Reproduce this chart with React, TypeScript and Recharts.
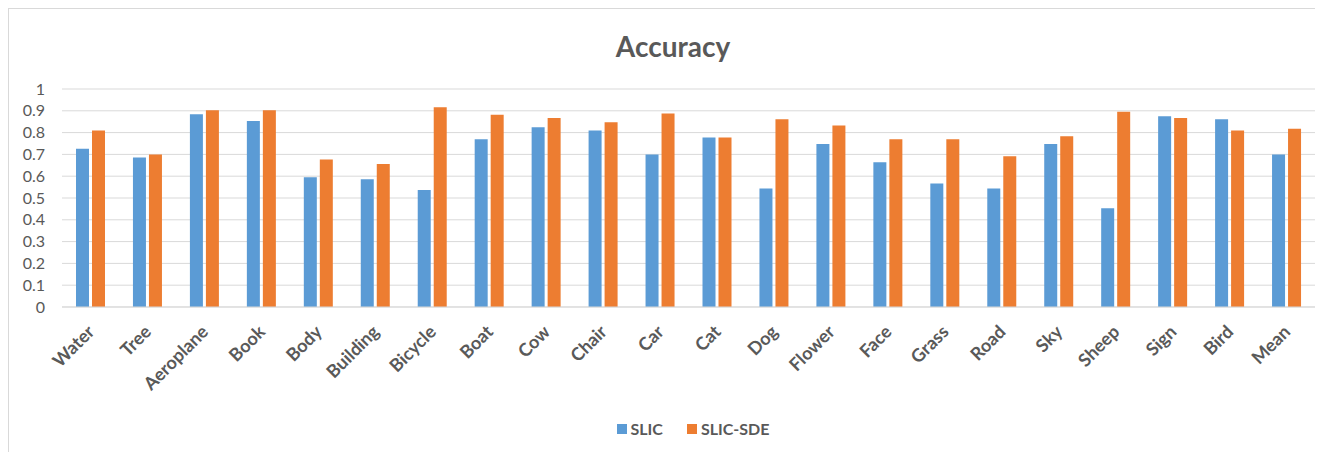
import { BarChart, Bar, XAxis, YAxis, CartesianGrid, Legend } from 'recharts'

const categories = [
  'Water', 'Tree', 'Aeroplane', 'Book', 'Body', 'Building', 'Bicycle', 'Boat', 'Cow', 'Chair', 'Car',
  'Cat', 'Dog', 'Flower', 'Face', 'Grass', 'Road', 'Sky', 'Sheep', 'Sign', 'Bird', 'Mean'
]

const slic = [
  0.726, 0.686, 0.884, 0.853, 0.595, 0.586, 0.537, 0.769, 0.824, 0.81, 0.699,
  0.777, 0.544, 0.748, 0.664, 0.566, 0.544, 0.748, 0.453, 0.875, 0.861, 0.699
]

const slicSde = [
  0.81, 0.699, 0.902, 0.902, 0.677, 0.656, 0.916, 0.882, 0.867, 0.847, 0.888,
  0.777, 0.861, 0.832, 0.769, 0.769, 0.691, 0.783, 0.896, 0.867, 0.81, 0.818
]

const yTicks = [0, 0.1, 0.2, 0.3, 0.4, 0.5, 0.6, 0.7, 0.8, 0.9, 1]

const data = categories.map((name, i) => ({ name, slic: slic[i], slicSde: slicSde[i] }))

const TEXT = '#595959'
const GRID = '#d9d9d9'
const FONT = 'Lato, "Open Sans", sans-serif'

function CategoryTick({ x, y, payload }: any) {
  const tx = x + 5
  const ty = y + 18
  return (
    <text
      x={tx}
      y={ty}
      transform={`rotate(-45 ${tx} ${ty})`}
      textAnchor="end"
      fill={TEXT}
      fontSize={18}
      fontWeight={700}
      fontFamily={FONT}
    >
      {payload.value}
    </text>
  )
}

function LegendContent({ payload }: any) {
  return (
    <div style={{ display: 'flex', justifyContent: 'center', gap: 24, fontFamily: FONT }}>
      {(payload || []).map((p: any) => (
        <span key={p.value} style={{ display: 'flex', alignItems: 'center', gap: 4 }}>
          <span style={{ width: 10, height: 10, background: p.color, display: 'inline-block' }} />
          <span style={{ color: TEXT, fontSize: 16, fontWeight: 700, lineHeight: '18px' }}>{p.value}</span>
        </span>
      ))}
    </div>
  )
}

export default function App() {
  return (
    <div
      style={{
        position: 'relative',
        width: 1340,
        height: 460,
        borderTop: `1px solid ${GRID}`,
        borderLeft: `1px solid ${GRID}`,
        fontFamily: FONT
      }}
    >
      <div
        style={{
          position: 'absolute',
          top: 20,
          left: 0,
          width: 1328,
          textAlign: 'center',
          fontSize: 28,
          fontWeight: 700,
          color: TEXT,
          lineHeight: '34px'
        }}
      >
        Accuracy
      </div>
      <BarChart
        width={1314}
        height={443}
        data={data}
        margin={{ top: 80, right: 8, left: 0, bottom: 0 }}
        barSize={13}
        barGap={3}
      >
        <CartesianGrid vertical={false} stroke={GRID} />
        <XAxis
          dataKey="name"
          interval={0}
          height={145}
          tickLine={false}
          axisLine={{ stroke: GRID }}
          tick={<CategoryTick />}
        />
        <YAxis
          width={53}
          domain={[0, 1]}
          ticks={yTicks}
          interval={0}
          axisLine={false}
          tickLine={false}
          tickSize={6}
          tickMargin={11}
          tick={{ fill: TEXT, fontSize: 16, fontFamily: FONT }}
        />
        <Legend
          verticalAlign="middle"
          layout="horizontal"
          content={<LegendContent />}
          wrapperStyle={{ top: 411, left: 484, width: 400 }}
        />
        <Bar dataKey="slic" name="SLIC" fill="#5b9bd5" isAnimationActive={false} />
        <Bar dataKey="slicSde" name="SLIC-SDE" fill="#ed7d31" isAnimationActive={false} />
      </BarChart>
    </div>
  )
}
